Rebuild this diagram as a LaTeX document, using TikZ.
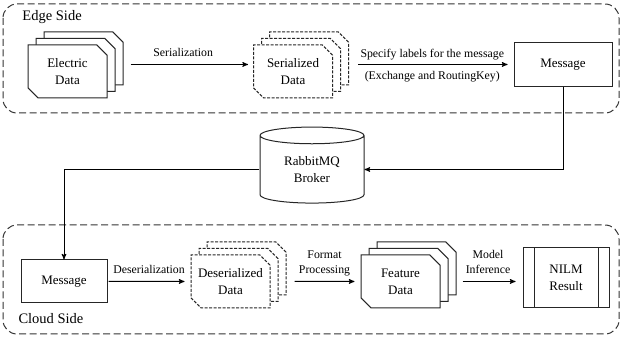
\documentclass[tikz,border=0pt]{standalone}
\usepackage{fontspec}
\setmainfont{Liberation Serif}
\newfontfamily\tnr{Liberation Serif}
\usetikzlibrary{arrows,calc,shapes.misc,shapes.geometric,shadows}

\begin{document}
\begin{tikzpicture}[x=1pt,y=-1pt,line width=1pt,
    boxtext/.style={font=\tnr\fontsize{13}{17}\selectfont,align=center},
    arrtext/.style={font=\tnr\fontsize{11.8}{14.5}\selectfont,align=center,text depth=.25em,inner sep=5pt},
    sidetext/.style={font=\tnr\fontsize{14.5}{17}\selectfont,inner sep=0pt},
    sidebox/.style={draw=black!80,dash pattern=on 7pt off 3.5pt,rounded corners=14pt},
    msgbox/.style={boxtext,draw=black!85,line width=1pt,minimum width=#1,minimum height=44pt,inner sep=0pt},
    docstack/.style={boxtext,chamfered rectangle,chamfered rectangle corners={north east,south west},
        chamfered rectangle xsep=7pt,draw=black!85,fill=white,line width=1pt,
        minimum width=79pt,minimum height=53pt,inner sep=0pt,
        copy shadow={shadow xshift=16pt,shadow yshift=13pt,draw=black!85,line width=1pt,#1},
        copy shadow={shadow xshift=8pt,shadow yshift=6.5pt,draw=black!85,line width=1pt,#1},#1},
    docstack/.default={solid},
    dashstack/.style={docstack={dash pattern=on 3pt off 1.5pt}},
    flow/.style={-stealth',line width=1pt}]

  \useasboundingbox (0,0) rectangle (622,344);

  %%%% Edge side %%%%
  \draw[sidebox] (3,4) rectangle (619,113);
  \node[sidetext,anchor=base west] (edgeT) at (22,21) {Edge Side};

  \node[docstack] (elec) at (67.5,71.5) {Electric\\Data};
  \node[dashstack] (ser) at (293,71.5) {Serialized\\Data};
  \node[msgbox=98pt] (msgE) at (563,64.5) {Message};

  \draw[flow,shorten <=23pt,shorten >=5pt] (elec.east |- msgE.west)
    -- node[arrtext,above,pos=.52] (serT) {Serialization} (ser.west |- msgE.west);
  \draw[flow,shorten <=25pt,shorten >=6pt] (ser.east |- msgE.west)
    -- node[arrtext,above,pos=.55,inner sep=4pt] (specT) {Specify labels for the message}
       node[arrtext,below,pos=.55,inner sep=6.5pt] (exT) {(Exchange and RoutingKey)} (msgE.west);

  %%%% Broker in between %%%%
  \node[boxtext,cylinder,shape border rotate=90,aspect=.3,draw=black!85,line width=1pt,
    minimum width=104pt,minimum height=76pt,inner sep=0pt] (broker) at (312,169.5) {RabbitMQ\\Broker};

  %%%% Cloud side %%%%
  \draw[sidebox] (3,225) rectangle (619,334);
  \node[sidetext,anchor=base west] (cloudT) at (18,324) {Cloud Side};

  \node[msgbox=86pt,minimum height=43pt] (msgC) at (64,281.5) {Message};
  \node[dashstack] (deser) at (230.5,281.5) {Deserialized\\Data};
  \node[docstack] (feat) at (400.5,281.5) {Feature\\Data};
  \node[msgbox=86pt,minimum height=60pt] (nilm) at (566,278) {NILM\\Result};
  % side bars of the result box
  \foreach \a/\dx in {north west/12,north east/-11}{
    \draw[draw=black!85] ([xshift=\dx pt]nilm.\a) -- ++(0,60);
  }

  \draw[flow] (msgE.south) |- (broker.east);
  \draw[flow] (broker.west) -| (msgC.north);

  \draw[flow,shorten <=1pt,shorten >=6pt] (msgC) -- node[arrtext,above] (deserT) {Deserialization} (deser);
  \draw[flow,shorten <=24pt,shorten >=6pt] (deser) -- node[arrtext,above,pos=.6] (fmtT) {Format\\Processing} (feat);
  \draw[flow,shorten <=22pt,shorten >=7pt] (feat.east) -- node[arrtext,above,pos=.58] (infT) {Model\\Inference} (feat.east -| nilm.west);

\end{tikzpicture}
\end{document}
